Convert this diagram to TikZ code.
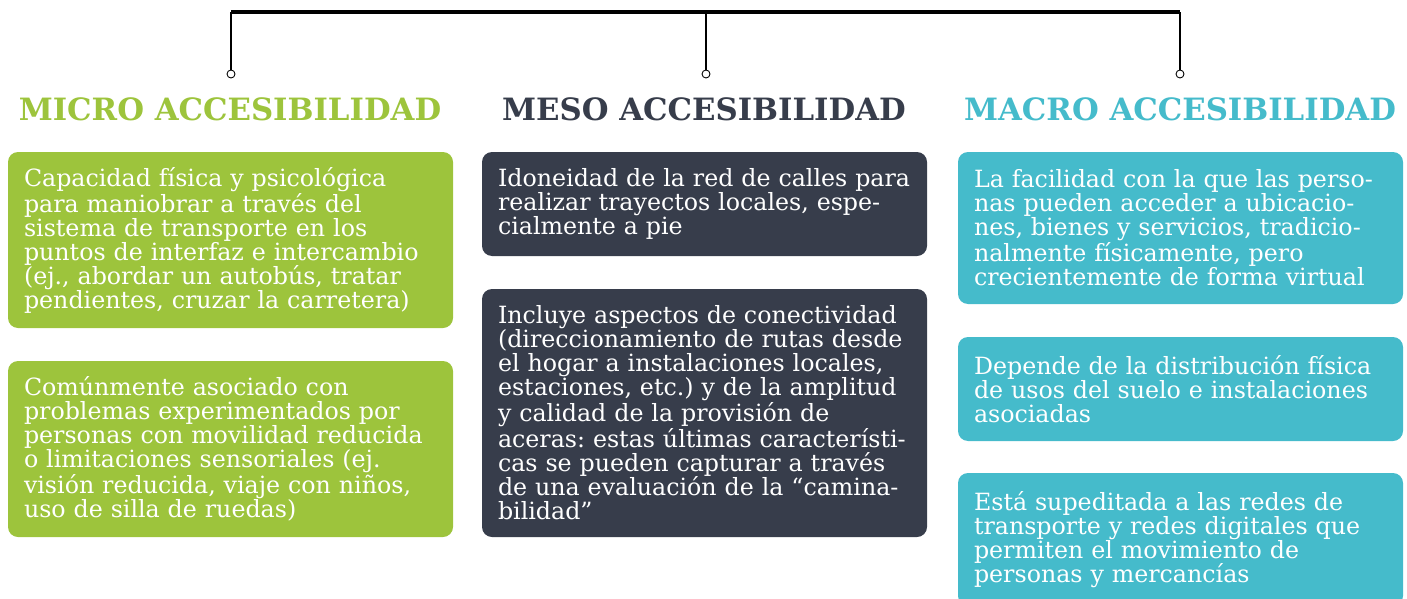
\documentclass[tikz,border=0pt]{standalone}
\usepackage{fontspec}
\setmainfont{DejaVu Serif}
\usepackage{tikz}
\usetikzlibrary{arrows.meta, positioning}
\definecolor{verdemicro}{HTML}{9DC43C}
\definecolor{grismeso}{HTML}{373D4B}
\definecolor{turquesamacro}{HTML}{45BBCB}
\frenchspacing

\begin{document}
\begin{tikzpicture}[>=Stealth, thick,
    caja/.style={rounded corners=0.2cm, anchor=north west, text=white, align=left,
        minimum width=8.9cm, text width=8.26cm, inner xsep=0.32cm, inner ysep=0pt, outer sep=0pt,
        font=\fontsize{13.5}{13.66}\selectfont},
    titulo/.style={font=\bfseries\fontsize{17.5}{19}\selectfont},
    punto/.style={draw, circle, fill=white, line width=0.5pt, inner sep=0pt, minimum size=0.16cm}]
    \useasboundingbox (0,0) rectangle (28.14,-11.98);

    % Títulos de las tres escalas
    \node[titulo, text=verdemicro] (tmicro) at (4.6,-2.18) {MICRO ACCESIBILIDAD};
    \node[titulo, text=grismeso] (tmeso) at (14.08,-2.18) {MESO ACCESIBILIDAD};
    \node[titulo, text=turquesamacro] (tmacro) at (23.6,-2.18) {MACRO ACCESIBILIDAD};

    % Puntos de conexión sobre los títulos
    \node[punto] (pmicro) at (4.62,-1.48) {};
    \node[punto] (pmeso) at (14.12,-1.48) {};
    \node[punto] (pmacro) at (23.6,-1.48) {};
    \coordinate (barra) at (14.12,-0.24);

    % Corchete superior
    \draw[line width=1.1pt] (pmicro.north) -- (pmicro.north |- barra);
    \draw[line width=1.1pt] (pmeso.north) -- (barra);
    \draw[line width=1.1pt] (pmacro.north) -- (pmacro.north |- barra);
    \draw[line width=1.8pt] (pmicro.north |- barra) -- (pmacro.north |- barra);

    % Columna micro
    \node[caja, fill=verdemicro, minimum height=3.52cm] (micro1) at (0.16,-3.04)
        {Capacidad física y psicológica\\para maniobrar a través del\\sistema de transporte en los\\puntos de interfaz e intercambio\\(ej., abordar un autobús, tratar\\pendientes, cruzar la carretera)};
    \node[caja, fill=verdemicro, minimum height=3.52cm, below=0.66cm of micro1.south west, anchor=north west] (micro2)
        {Comúnmente asociado con\\problemas experimentados por\\personas con movilidad reducida\\o limitaciones sensoriales (ej.\\visión reducida, viaje con niños,\\uso de silla de ruedas)};

    % Columna meso
    \node[caja, fill=grismeso, minimum height=2.08cm, right=0.58cm of micro1.north east, anchor=north west] (meso1)
        {Idoneidad de la red de calles para\\realizar trayectos locales, espe-\\cialmente a pie};
    \node[caja, fill=grismeso, minimum height=4.96cm, below=0.66cm of meso1.south west, anchor=north west] (meso2)
        {Incluye aspectos de conectividad\\(direccionamiento de rutas desde\\el hogar a instalaciones locales,\\estaciones, etc.) y de la amplitud\\y calidad de la provisión de\\aceras: estas últimas característi-\\cas se pueden capturar a través\\de una evaluación de la “camina-\\bilidad”};

    % Columna macro
    \node[caja, fill=turquesamacro, minimum height=3.04cm, right=0.62cm of meso1.north east, anchor=north west] (macro1)
        {La facilidad con la que las perso-\\nas pueden acceder a ubicacio-\\nes, bienes y servicios, tradicio-\\nalmente físicamente, pero\\crecientemente de forma virtual};
    \node[caja, fill=turquesamacro, minimum height=2.08cm, below=0.66cm of macro1.south west, anchor=north west] (macro2)
        {Depende de la distribución física\\de usos del suelo e instalaciones\\asociadas};
    \node[caja, fill=turquesamacro, minimum height=2.66cm, below=0.64cm of macro2.south west, anchor=north west] (macro3)
        {Está supeditada a las redes de\\transporte y redes digitales que\\permiten el movimiento de\\personas y mercancías};
\end{tikzpicture}
\end{document}
